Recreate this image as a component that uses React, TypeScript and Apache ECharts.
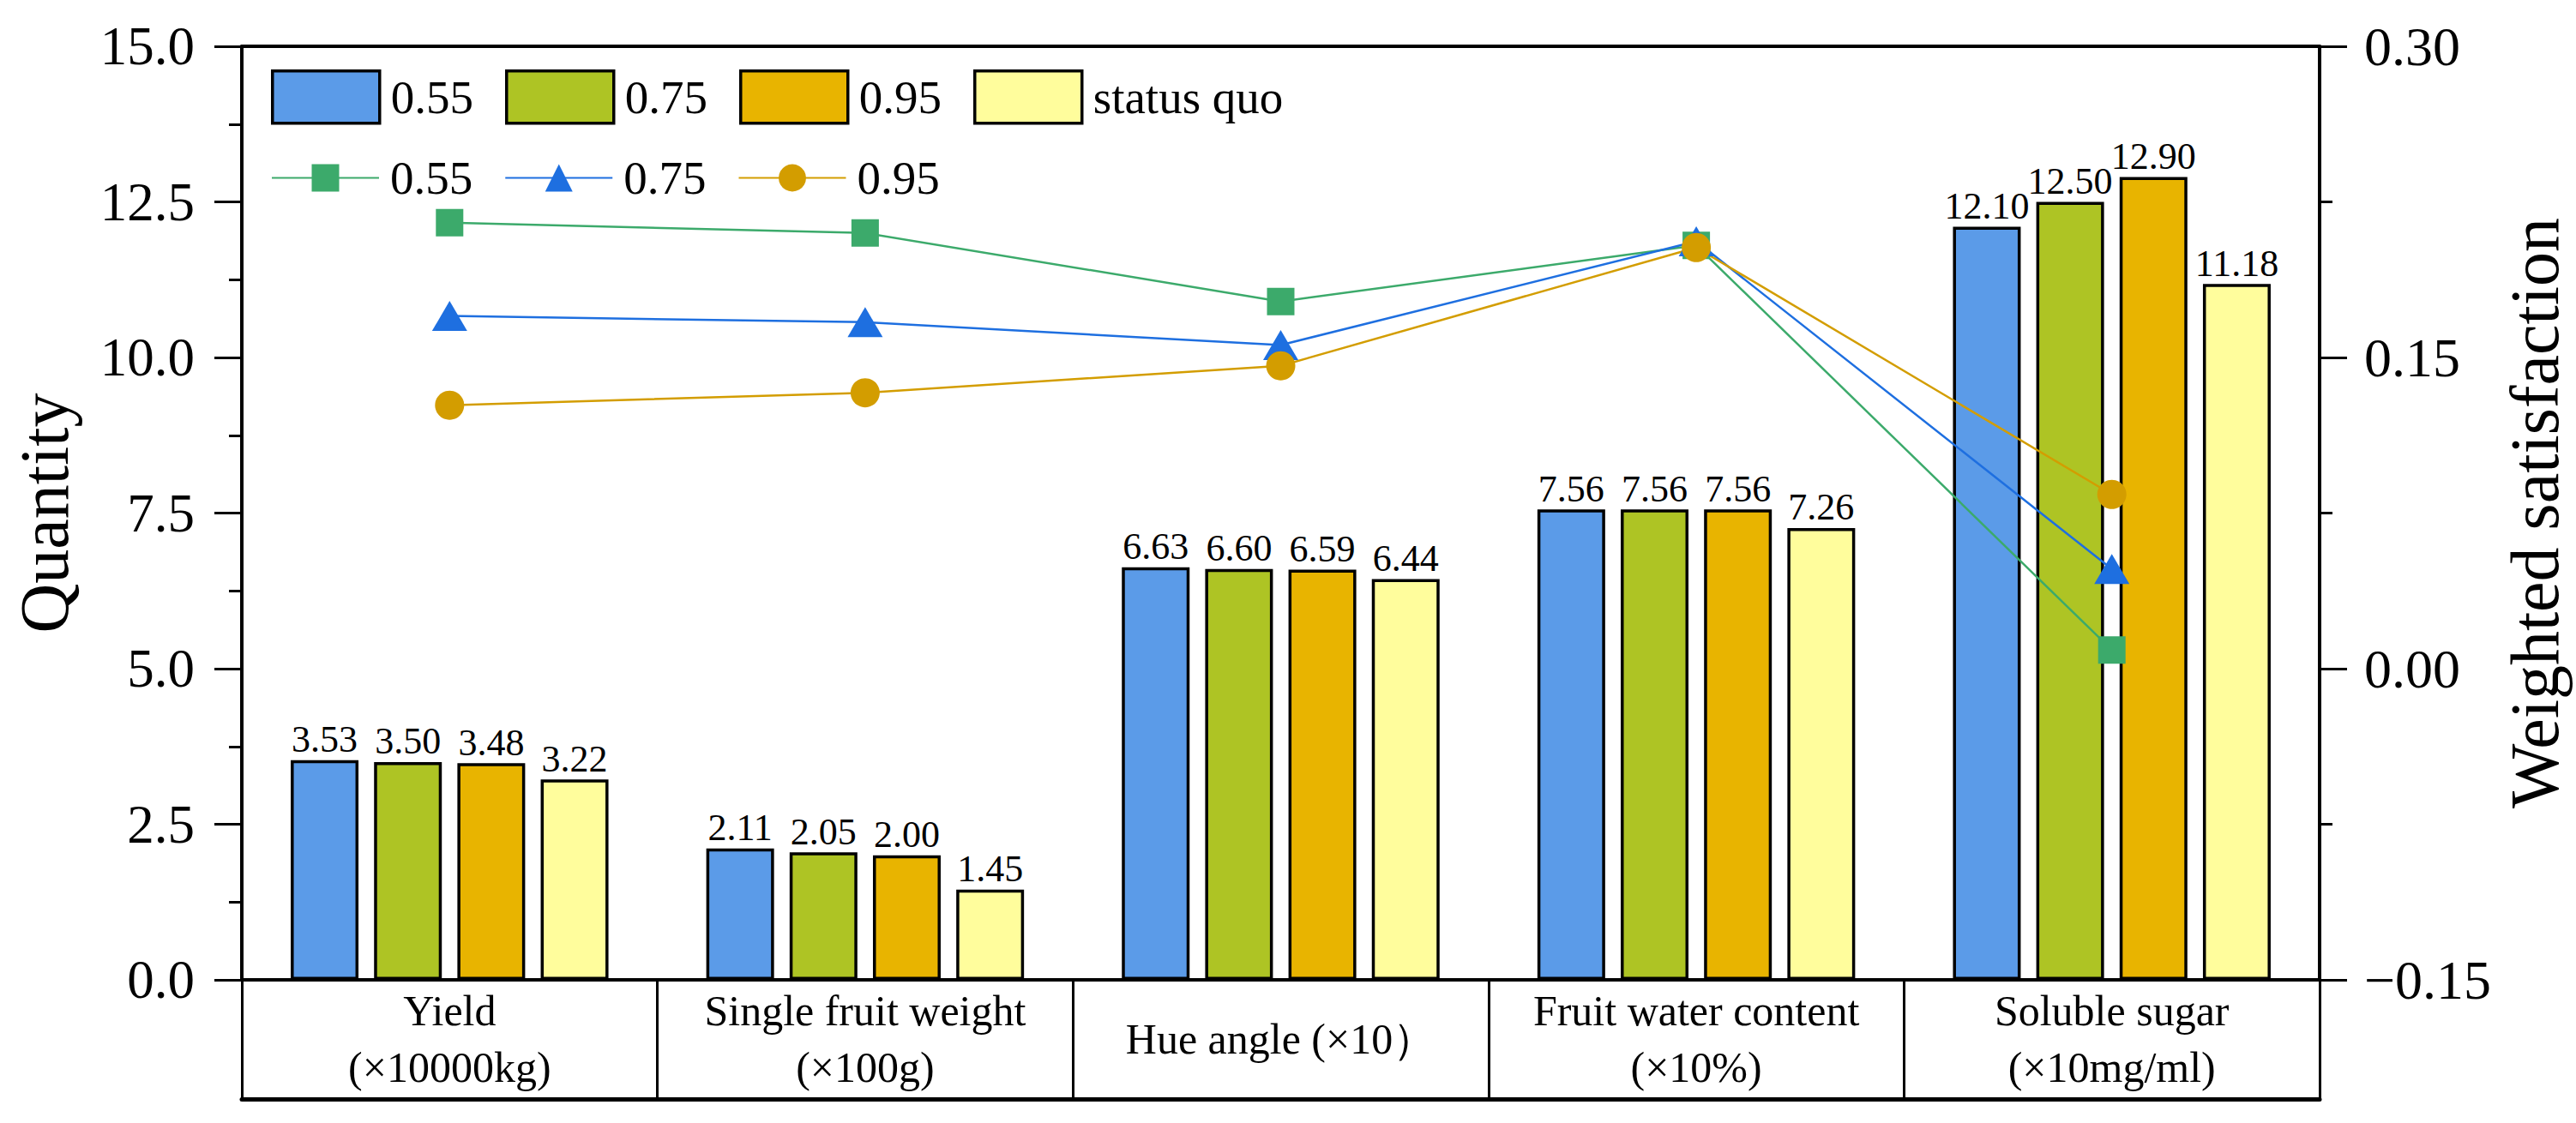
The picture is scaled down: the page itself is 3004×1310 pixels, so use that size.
import React, { useEffect, useRef } from "react";
import * as echarts from "echarts";

const categories = [
  "Yield\n(×10000kg)",
  "Single fruit weight\n(×100g)",
  "Hue angle (×10）",
  "Fruit water content\n(×10%)",
  "Soluble sugar\n(×10mg/ml)",
];
const barNames = ["0.55", "0.75", "0.95", "status quo"];
const bar055 = [3.53, 2.11, 6.63, 7.56, 12.1];
const bar075 = [3.5, 2.05, 6.6, 7.56, 12.5];
const bar095 = [3.48, 2.0, 6.59, 7.56, 12.9];
const barStatusQuo = [3.22, 1.45, 6.44, 7.26, 11.18];
const lineNames = ["0.55", "0.75", "0.95"];
const ws055 = [0.215, 0.21, 0.177, 0.204, 0.009];
const ws075 = [0.17, 0.167, 0.156, 0.206, 0.048];
const ws095 = [0.127, 0.133, 0.146, 0.203, 0.084];

const FONT = "'Times New Roman', 'Liberation Serif', serif";
const barColors = ["#5B9BE8", "#AEC424", "#E8B400", "#FFFD9C"];
const lineColors = ["#3CAA6B", "#1E6FE0", "#D39D00"];
const LINE_PREFIX = "ws ";

export default function App() {
  const ref = useRef<HTMLDivElement>(null);
  useEffect(() => {
    document.body.style.margin = "0";
    const chart = echarts.init(ref.current!, null, { renderer: "svg" });
    const barData = [bar055, bar075, bar095, barStatusQuo];
    const lineData = [ws055, ws075, ws095];
    const symbols = ["rect", "triangle", "circle"];
    const symbolSizes: any[] = [32, [41, 35], 34];

    const barSeries = barData.map((d, i) => ({
      name: barNames[i],
      type: "bar",
      xAxisIndex: 0,
      yAxisIndex: 0,
      data: d,
      barWidth: 79,
      barGap: "23%",
      itemStyle: { color: barColors[i], borderColor: "#000", borderWidth: 3.5 },
      label: {
        show: true,
        position: "top",
        distance: 2,
        fontFamily: FONT,
        fontSize: 44,
        color: "#000",
        formatter: (p: any) => Number(p.value).toFixed(2),
      },
      z: 2,
    }));

    const lineSeries = lineData.map((d, i) => ({
      name: LINE_PREFIX + lineNames[i],
      type: "line",
      xAxisIndex: 0,
      yAxisIndex: 1,
      data: d,
      symbol: symbols[i],
      symbolSize: symbolSizes[i],
      showSymbol: true,
      lineStyle: { color: lineColors[i], width: 2.5 },
      itemStyle: { color: lineColors[i] },
      z: 5,
    }));

    const fmtRight = (v: number) => {
      if (Math.abs(v) < 1e-9) return "0.00";
      return v < 0 ? "\u2212" + Math.abs(v).toFixed(2) : v.toFixed(2);
    };

    const lineOnly = (position: string, offset: number, width: number) => ({
      type: "category",
      data: categories,
      position,
      offset,
      axisLine: { show: true, onZero: false, lineStyle: { color: "#000", width } },
      axisTick: { show: false },
      axisLabel: { show: false },
      splitLine: { show: false },
    });

    chart.setOption({
      animation: false,
      backgroundColor: "#fff",
      textStyle: { fontFamily: FONT },
      grid: { left: 282, right: 296, top: 54, bottom: 167, containLabel: false },
      legend: [
        {
          data: barNames,
          left: 311,
          top: 76,
          orient: "horizontal",
          icon: "rect",
          itemWidth: 125,
          itemHeight: 61,
          itemGap: 37,
          textStyle: { fontFamily: FONT, fontSize: 55, color: "#000", padding: [0, 0, 0, 8] },
          itemStyle: { borderColor: "#000", borderWidth: 3.5 },
          selectedMode: false,
        },
        {
          data: lineNames.map((n) => LINE_PREFIX + n),
          left: 311,
          top: 175,
          orient: "horizontal",
          itemWidth: 125,
          itemHeight: 40,
          itemGap: 37,
          formatter: (n: string) => n.replace(LINE_PREFIX, ""),
          textStyle: { fontFamily: FONT, fontSize: 55, color: "#000", padding: [0, 0, 0, 8] },
          selectedMode: false,
        },
      ],
      xAxis: [
        {
          type: "category",
          data: categories,
          position: "bottom",
          axisLine: { show: true, onZero: false, lineStyle: { color: "#000", width: 4 } },
          axisTick: {
            show: true,
            interval: 0,
            length: 139,
            lineStyle: { color: "#000", width: 3 },
          },
          axisLabel: {
            interval: 0,
            fontFamily: FONT,
            fontSize: 50,
            lineHeight: 66,
            color: "#000",
            verticalAlign: "middle",
            margin: 69,
          },
          splitLine: { show: false },
        },
        lineOnly("bottom", 139, 5),
        lineOnly("top", 0, 4),
      ],
      yAxis: [
        {
          type: "value",
          position: "left",
          min: 0,
          max: 15,
          interval: 2.5,
          name: "Quantity",
          nameLocation: "middle",
          nameGap: 190,
          nameTextStyle: { fontFamily: FONT, fontSize: 80, color: "#000" },
          axisLine: { show: true, lineStyle: { color: "#000", width: 4 } },
          axisTick: { show: true, length: 32, lineStyle: { color: "#000", width: 3 } },
          minorTick: { show: true, splitNumber: 2, length: 15, lineStyle: { color: "#000", width: 3 } },
          axisLabel: {
            fontFamily: FONT,
            fontSize: 63,
            color: "#000",
            margin: 55,
            formatter: (v: number) => v.toFixed(1),
          },
          splitLine: { show: false },
        },
        {
          type: "value",
          position: "right",
          min: -0.15,
          max: 0.3,
          interval: 0.15,
          name: "Weighted satisfaction",
          nameLocation: "middle",
          nameGap: 195,
          nameTextStyle: { fontFamily: FONT, fontSize: 80, color: "#000" },
          axisLine: { show: true, lineStyle: { color: "#000", width: 4 } },
          axisTick: { show: true, length: 32, lineStyle: { color: "#000", width: 3 } },
          minorTick: { show: true, splitNumber: 2, length: 15, lineStyle: { color: "#000", width: 3 } },
          axisLabel: {
            fontFamily: FONT,
            fontSize: 64,
            color: "#000",
            margin: 52,
            formatter: fmtRight,
          },
          splitLine: { show: false },
        },
      ],
      series: [...barSeries, ...lineSeries],
    });
    return () => chart.dispose();
  }, []);
  return <div ref={ref} style={{ width: 3004, height: 1310 }} />;
}
